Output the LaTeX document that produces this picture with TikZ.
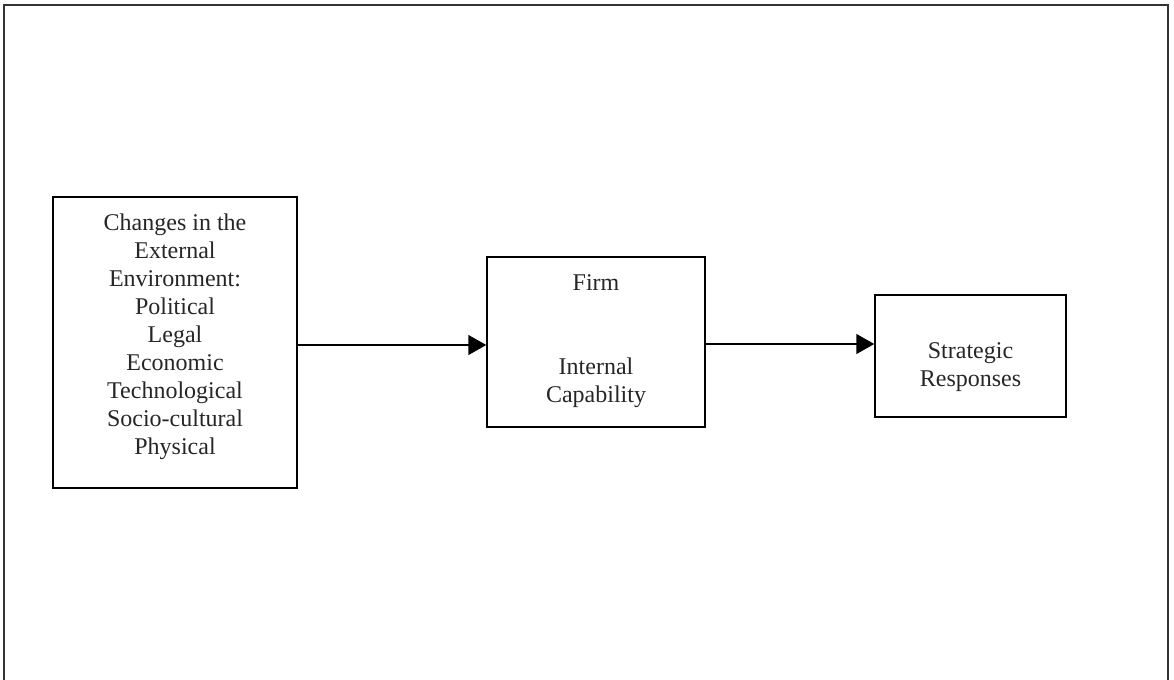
\documentclass[tikz,border=0pt]{standalone}
\usepackage{fontspec}
\setmainfont{Liberation Serif}
\usetikzlibrary{arrows.meta}
\begin{document}
\begin{tikzpicture}[x=0.5pt,y=-0.5pt,
  box/.style={draw, line width=0.75pt, inner sep=0pt, fill=none},
  txt/.style={align=center, inner sep=0pt, font=\fontsize{12}{14}\selectfont, text=black!85},
  conn/.style={line width=0.75pt, -{Triangle[length=9pt,width=10pt]}}]
\useasboundingbox (0,0) rectangle (1174,680);
% outer frame (open at the bottom)
\draw[line width=1pt, black!80] (4,680) -- (4,5) -- (1168,5) -- (1168,680);
% boxes
\node[box, minimum width=122pt, minimum height=145.5pt] (b1) at (175,342.5) {};
\node[box, minimum width=109pt, minimum height=85pt] (b2) at (596,342) {};
\node[box, minimum width=95.5pt, minimum height=61pt] (b3) at (970.5,356) {};
% texts
\node[txt] (t1) at (175,336.3) {Changes in the\\External\\Environment:\\Political\\Legal\\Economic\\Technological\\Socio-cultural\\Physical};
\node[txt] (t2) at (596,340.7) {Firm\\[28pt]Internal\\Capability};
\node[txt] (t3) at (970.5,367.5) {Strategic\\Responses};
% connectors
\draw[conn] (b1.east |- 0,345) -- (b2.west |- 0,345);
\draw[conn] (b2.east |- 0,344) -- (b3.west |- 0,344);
\end{tikzpicture}
\end{document}
